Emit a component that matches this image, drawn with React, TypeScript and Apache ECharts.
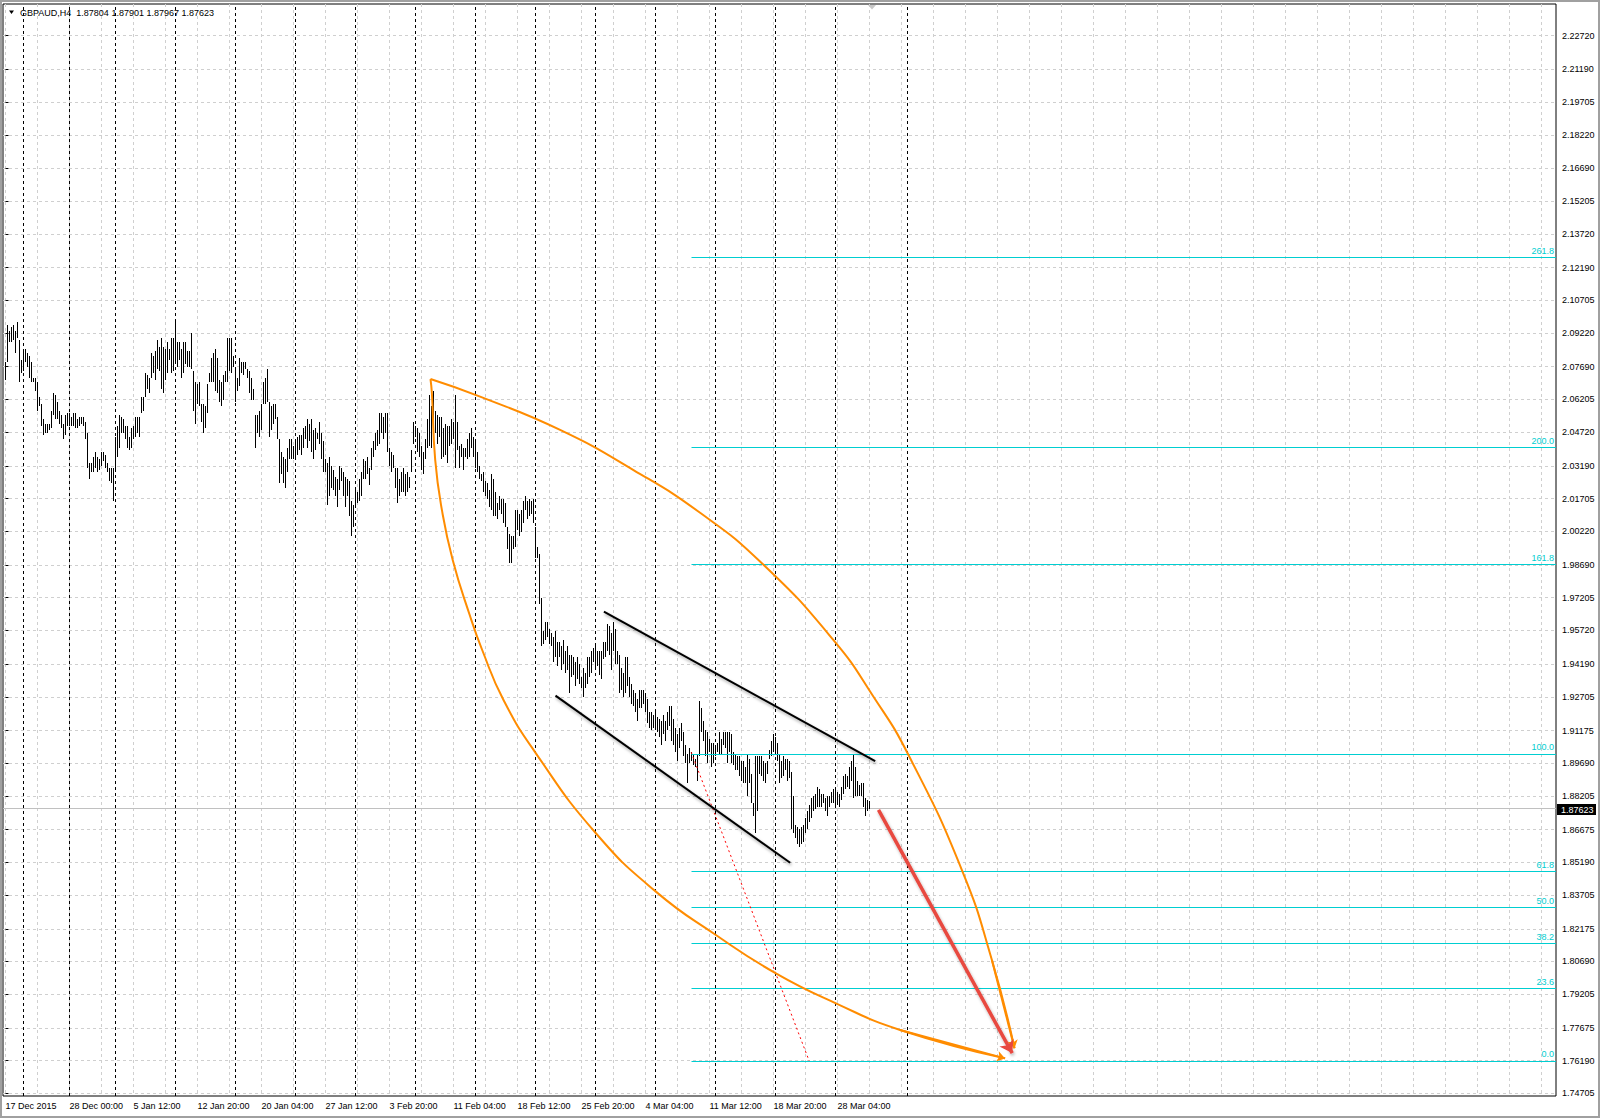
import React, { useEffect, useRef } from 'react';
import * as echarts from 'echarts';

// GBPAUD H4 bars: high / low per bar (index 0 = 17 Dec 2015)
const highs = [
  2.079, 2.096, 2.093, 2.095, 2.096, 2.093, 2.097, 2.089, 2.080, 2.084,
  2.085, 2.083, 2.082, 2.079, 2.072, 2.072, 2.070, 2.063, 2.060, 2.053,
  2.051, 2.051, 2.051, 2.057, 2.065, 2.064, 2.061, 2.057, 2.055, 2.051,
  2.055, 2.056, 2.056, 2.054, 2.056, 2.056, 2.053, 2.054, 2.054, 2.054,
  2.052, 2.047, 2.033, 2.033, 2.036, 2.038, 2.036, 2.035, 2.038, 2.038,
  2.037, 2.033, 2.031, 2.031, 2.031, 2.045, 2.050, 2.055, 2.054, 2.053,
  2.050, 2.050, 2.045, 2.049, 2.050, 2.054, 2.054, 2.054, 2.063, 2.063,
  2.074, 2.073, 2.072, 2.083, 2.082, 2.084, 2.089, 2.086, 2.090, 2.086,
  2.085, 2.088, 2.085, 2.090, 2.090, 2.097, 2.088, 2.088, 2.085, 2.088,
  2.088, 2.084, 2.084, 2.092, 2.075, 2.070, 2.069, 2.070, 2.060, 2.060,
  2.059, 2.069, 2.074, 2.081, 2.083, 2.085, 2.081, 2.071, 2.070, 2.073,
  2.075, 2.090, 2.090, 2.090, 2.082, 2.077, 2.072, 2.081, 2.079, 2.079,
  2.079, 2.076, 2.075, 2.072, 2.067, 2.055, 2.055, 2.057, 2.060, 2.070,
  2.072, 2.076, 2.061, 2.059, 2.060, 2.060, 2.054, 2.044, 2.038, 2.036,
  2.035, 2.040, 2.044, 2.044, 2.041, 2.044, 2.045, 2.046, 2.046, 2.049,
  2.050, 2.053, 2.051, 2.053, 2.048, 2.049, 2.047, 2.052, 2.047, 2.043,
  2.035, 2.033, 2.036, 2.032, 2.030, 2.027, 2.026, 2.032, 2.031, 2.029,
  2.027, 2.026, 2.025, 2.016, 2.014, 2.022, 2.020, 2.026, 2.029, 2.035,
  2.034, 2.036, 2.031, 2.040, 2.043, 2.047, 2.048, 2.056, 2.056, 2.054,
  2.056, 2.056, 2.040, 2.038, 2.037, 2.031, 2.031, 2.026, 2.029, 2.031,
  2.028, 2.029, 2.027, 2.039, 2.052, 2.050, 2.049, 2.047, 2.041, 2.038,
  2.044, 2.053, 2.064, 2.059, 2.066, 2.057, 2.055, 2.054, 2.054, 2.049,
  2.051, 2.050, 2.050, 2.053, 2.052, 2.064, 2.052, 2.041, 2.042, 2.040,
  2.040, 2.044, 2.047, 2.049, 2.045, 2.044, 2.038, 2.032, 2.028, 2.029,
  2.025, 2.024, 2.021, 2.028, 2.026, 2.020, 2.015, 2.018, 2.017, 2.017,
  2.015, 2.004, 2.001, 2.000, 2.000, 2.012, 2.012, 2.010, 2.012, 2.016,
  2.018, 2.016, 2.017, 2.016, 2.017, 2.004, 1.995, 1.992, 1.972, 1.957,
  1.961, 1.961, 1.958, 1.956, 1.954, 1.957, 1.952, 1.952, 1.950, 1.953,
  1.948, 1.950, 1.946, 1.946, 1.945, 1.943, 1.945, 1.942, 1.936, 1.940,
  1.938, 1.945, 1.945, 1.948, 1.949, 1.951, 1.948, 1.948, 1.948, 1.952,
  1.952, 1.960, 1.959, 1.956, 1.961, 1.958, 1.948, 1.946, 1.940, 1.938,
  1.945, 1.945, 1.936, 1.933, 1.930, 1.929, 1.926, 1.930, 1.930, 1.930,
  1.929, 1.926, 1.920, 1.920, 1.919, 1.920, 1.918, 1.917, 1.916, 1.919,
  1.916, 1.920, 1.923, 1.923, 1.917, 1.913, 1.910, 1.913, 1.915, 1.911,
  1.905, 1.901, 1.904, 1.902, 1.901, 1.899, 1.901, 1.925, 1.922, 1.916,
  1.912, 1.911, 1.908, 1.906, 1.906, 1.905, 1.906, 1.911, 1.908, 1.911,
  1.911, 1.911, 1.911, 1.910, 1.902, 1.901, 1.900, 1.900, 1.898, 1.898,
  1.895, 1.901, 1.899, 1.892, 1.879, 1.900, 1.900, 1.900, 1.900, 1.898,
  1.897, 1.898, 1.903, 1.907, 1.910, 1.909, 1.906, 1.901, 1.898, 1.900,
  1.899, 1.899, 1.898, 1.893, 1.882, 1.869, 1.868, 1.867, 1.868, 1.869,
  1.872, 1.875, 1.878, 1.881, 1.882, 1.883, 1.886, 1.885, 1.883, 1.883,
  1.881, 1.882, 1.882, 1.884, 1.885, 1.886, 1.884, 1.883, 1.886, 1.891,
  1.892, 1.891, 1.895, 1.898, 1.901, 1.895, 1.889, 1.887, 1.888, 1.888,
  1.881, 1.880, 1.8797,
];

const lows = [
  2.071, 2.079, 2.088, 2.088, 2.089, 2.083, 2.090, 2.070, 2.074, 2.075,
  2.079, 2.077, 2.072, 2.070, 2.070, 2.066, 2.057, 2.059, 2.050, 2.046,
  2.047, 2.047, 2.048, 2.049, 2.055, 2.053, 2.053, 2.051, 2.049, 2.044,
  2.046, 2.050, 2.050, 2.050, 2.050, 2.049, 2.049, 2.050, 2.051, 2.050,
  2.044, 2.031, 2.026, 2.029, 2.029, 2.031, 2.029, 2.030, 2.032, 2.034,
  2.031, 2.029, 2.025, 2.024, 2.016, 2.029, 2.036, 2.040, 2.047, 2.047,
  2.044, 2.040, 2.039, 2.040, 2.044, 2.045, 2.047, 2.045, 2.056, 2.057,
  2.063, 2.067, 2.065, 2.072, 2.074, 2.071, 2.076, 2.075, 2.067, 2.065,
  2.071, 2.074, 2.080, 2.074, 2.075, 2.079, 2.077, 2.080, 2.072, 2.074,
  2.078, 2.077, 2.077, 2.076, 2.057, 2.051, 2.060, 2.059, 2.052, 2.047,
  2.049, 2.056, 2.070, 2.070, 2.070, 2.066, 2.065, 2.061, 2.059, 2.062,
  2.070, 2.070, 2.075, 2.074, 2.077, 2.061, 2.066, 2.068, 2.074, 2.073,
  2.076, 2.072, 2.065, 2.062, 2.062, 2.040, 2.047, 2.045, 2.048, 2.060,
  2.060, 2.061, 2.045, 2.048, 2.051, 2.053, 2.044, 2.024, 2.028, 2.024,
  2.022, 2.029, 2.035, 2.035, 2.035, 2.036, 2.037, 2.039, 2.037, 2.040,
  2.044, 2.040, 2.043, 2.038, 2.035, 2.039, 2.044, 2.042, 2.035, 2.029,
  2.029, 2.014, 2.018, 2.022, 2.021, 2.018, 2.013, 2.021, 2.025, 2.018,
  2.013, 2.018, 2.009, 2.000, 2.004, 2.013, 2.015, 2.016, 2.018, 2.026,
  2.026, 2.028, 2.023, 2.030, 2.036, 2.039, 2.041, 2.042, 2.047, 2.044,
  2.047, 2.038, 2.032, 2.029, 2.031, 2.022, 2.015, 2.018, 2.020, 2.020,
  2.018, 2.020, 2.022, 2.029, 2.042, 2.045, 2.038, 2.036, 2.030, 2.028,
  2.035, 2.040, 2.041, 2.040, 2.044, 2.047, 2.042, 2.045, 2.035, 2.036,
  2.037, 2.033, 2.041, 2.042, 2.044, 2.031, 2.039, 2.031, 2.036, 2.030,
  2.036, 2.035, 2.036, 2.040, 2.036, 2.031, 2.029, 2.026, 2.025, 2.020,
  2.018, 2.017, 2.013, 2.012, 2.009, 2.009, 2.008, 2.012, 2.010, 2.006,
  2.004, 1.994, 1.988, 1.988, 1.994, 1.995, 2.003, 2.000, 2.002, 2.006,
  2.012, 2.008, 2.009, 2.010, 2.006, 1.990, 1.990, 1.969, 1.950, 1.951,
  1.953, 1.954, 1.951, 1.950, 1.943, 1.945, 1.941, 1.945, 1.939, 1.942,
  1.938, 1.939, 1.929, 1.936, 1.937, 1.932, 1.935, 1.933, 1.931, 1.927,
  1.931, 1.933, 1.936, 1.938, 1.943, 1.940, 1.941, 1.937, 1.935, 1.944,
  1.945, 1.948, 1.946, 1.939, 1.948, 1.942, 1.942, 1.929, 1.930, 1.927,
  1.929, 1.932, 1.927, 1.924, 1.923, 1.920, 1.916, 1.922, 1.922, 1.924,
  1.920, 1.915, 1.913, 1.912, 1.913, 1.913, 1.911, 1.909, 1.905, 1.910,
  1.907, 1.912, 1.914, 1.907, 1.905, 1.902, 1.898, 1.904, 1.907, 1.900,
  1.897, 1.888, 1.897, 1.898, 1.896, 1.895, 1.889, 1.900, 1.911, 1.907,
  1.900, 1.897, 1.902, 1.895, 1.897, 1.900, 1.902, 1.901, 1.901, 1.905,
  1.904, 1.897, 1.902, 1.897, 1.896, 1.894, 1.894, 1.891, 1.889, 1.888,
  1.888, 1.882, 1.888, 1.879, 1.873, 1.865, 1.875, 1.892, 1.891, 1.889,
  1.888, 1.892, 1.899, 1.900, 1.902, 1.902, 1.898, 1.888, 1.890, 1.891,
  1.894, 1.889, 1.890, 1.867, 1.865, 1.863, 1.860, 1.859, 1.860, 1.861,
  1.865, 1.867, 1.870, 1.872, 1.875, 1.876, 1.877, 1.877, 1.877, 1.879,
  1.875, 1.873, 1.877, 1.879, 1.879, 1.878, 1.878, 1.877, 1.880, 1.883,
  1.885, 1.886, 1.885, 1.889, 1.881, 1.882, 1.882, 1.882, 1.882, 1.877,
  1.873, 1.875, 1.8762,
];

const dateTickIdx = [0, 32, 64, 96, 128, 160, 192, 224, 256, 288, 320, 352, 384, 416];
const dateTickLabels = [
  '17 Dec 2015', '28 Dec 00:00', '5 Jan 12:00', '12 Jan 20:00', '20 Jan 04:00',
  '27 Jan 12:00', '3 Feb 20:00', '11 Feb 04:00', '18 Feb 12:00', '25 Feb 20:00',
  '4 Mar 04:00', '11 Mar 12:00', '18 Mar 20:00', '28 Mar 04:00',
];
const separatorIdx = [9, 32, 55, 85, 115, 145, 175, 205, 235, 265, 295, 325, 355, 385, 415, 451];

const priceTicks = [
  '2.22720', '2.21190', '2.19705', '2.18220', '2.16690', '2.15205', '2.13720', '2.12190',
  '2.10705', '2.09220', '2.07690', '2.06205', '2.04720', '2.03190', '2.01705', '2.00220',
  '1.98690', '1.97205', '1.95720', '1.94190', '1.92705', '1.91175', '1.89690', '1.88205',
  '1.86675', '1.85190', '1.83705', '1.82175', '1.80690', '1.79205', '1.77675', '1.76190',
  '1.74705',
];

const bidPrice = 1.87623;
const fibLevels = [0, 23.6, 38.2, 50, 61.8, 100, 161.8, 200, 261.8];
const fibZero = 1.7618;
const fibHundred = 1.9011;
const fibStartIdx = 343;

const upperArc = [
  [212.5, 2.0713], [237.3, 2.0633], [277.3, 2.0482], [314, 2.0300], [347.3, 2.0106],
  [378.2, 1.9877], [414, 1.9528], [434, 1.9271], [451.5, 1.9006], [478.2, 1.8484],
  [493.2, 1.8076], [504.5, 1.7675],
];
const lowerArc = [
  [212.5, 2.0713], [213.2, 2.0648], [214.85, 2.0346], [218.2, 2.0119], [223.6, 1.9892],
  [232.1, 1.9642], [238.35, 1.9483], [249, 1.9256], [265.2, 1.9014], [295.2, 1.8651],
  [325.2, 1.8386], [355.2, 1.8189], [385.2, 1.8015], [415.2, 1.7879], [447.3, 1.7758],
  [499.8, 1.7629],
];
const upperChannel = [[299.2, 1.9657], [434.85, 1.8979]];
const lowerChannel = [[275, 1.9276], [392.35, 1.8517]];
const fibTrend = [[342.85, 1.9019], [401.85, 1.7617]];
const forecastArrow = [[436.5, 1.8757], [503.35, 1.7653]];

const X_MIN = -1.25;
const X_MAX = 775.25;
const Y_MIN = 1.74582;
const Y_MAX = 2.24158;
const FONT = '"Liberation Sans", Arial, sans-serif';

const App: React.FC = () => {
  const ref = useRef<HTMLDivElement>(null);

  useEffect(() => {
    if (!ref.current) return;
    const chart = echarts.init(ref.current, null, { renderer: 'svg' });

    const gridIdx = Array.from({ length: 49 }, (_, k) => k * 16);
    const yTicks = priceTicks.map(Number);
    const fibRange = fibHundred - fibZero;

    const lineSeries = (name: string, data: any[], lineStyle: any, extra: any = {}) => ({
      name,
      type: 'lines',
      coordinateSystem: 'cartesian2d',
      polyline: false,
      silent: true,
      symbol: 'none',
      lineStyle: { opacity: 1, ...lineStyle },
      data,
      ...extra,
    });

    chart.setOption({
      animation: false,
      backgroundColor: '#fff',
      grid: {
        left: 3, right: 44, top: 4, bottom: 22,
        show: true, borderColor: '#000', borderWidth: 1, backgroundColor: '#fff',
        containLabel: false, outerBoundsMode: 'none',
      },
      xAxis: {
        type: 'value', min: X_MIN, max: X_MAX,
        axisLine: { show: false },
        axisTick: { show: false, customValues: gridIdx },
        splitLine: { show: true, lineStyle: { color: '#cfcfcf', type: [3, 3], width: 1 } },
        axisLabel: {
          customValues: dateTickIdx,
          formatter: (v: number) => {
            const k = dateTickIdx.indexOf(v);
            return k >= 0 ? dateTickLabels[k] : '';
          },
          align: 'left', margin: 5, fontSize: 9, fontFamily: FONT, color: '#000',
        },
      },
      yAxis: {
        type: 'value', position: 'right', min: Y_MIN, max: Y_MAX, scale: true,
        axisLine: { show: false },
        axisTick: { show: true, length: 3, customValues: yTicks, lineStyle: { color: '#000' } },
        splitLine: { show: true, lineStyle: { color: '#cfcfcf', type: [3, 3], width: 1 } },
        axisLabel: {
          customValues: yTicks,
          formatter: (v: number) => v.toFixed(5),
          margin: 6, fontSize: 9, fontFamily: FONT, color: '#000',
        },
      },
      series: [
        lineSeries('separators',
          separatorIdx.map(s => ({ coords: [[s, Y_MIN], [s, Y_MAX]] })),
          { color: '#000', width: 1, type: [3, 3] }, { z: 1 }),
        lineSeries('bid',
          [{ coords: [[X_MIN, bidPrice], [X_MAX, bidPrice]] }],
          { color: '#c0c0c0', width: 1 }, { z: 1 }),
        {
          name: 'GBPAUD',
          type: 'custom',
          silent: true,
          z: 3,
          encode: { x: 0, y: [1, 2] },
          data: highs.map((h, i) => [i, h, lows[i]]),
          renderItem: (_params: any, api: any) => {
            const top = api.coord([api.value(0), api.value(1)]);
            const bot = api.coord([api.value(0), api.value(2)]);
            const x = Math.round(top[0] - 0.5) + 0.5;
            const y1 = Math.round(top[1]);
            const y2 = Math.max(Math.round(bot[1]), y1 + 1);
            return {
              type: 'line',
              shape: { x1: x, y1, x2: x, y2 },
              style: { stroke: '#000', lineWidth: 1 },
            };
          },
        },
        lineSeries('fibo',
          fibLevels.map(l => {
            const p = fibZero + (fibRange * l) / 100;
            return { coords: [[fibStartIdx, p], [X_MAX, p]], label: { formatter: l.toFixed(1) } };
          }),
          { color: '#00CED1', width: 1 },
          {
            z: 4,
            label: {
              show: true, position: 'insideEndTop', distance: 2, opacity: 1,
              color: '#00CED1', fontSize: 9, fontFamily: FONT,
            },
          }),
        lineSeries('fiboTrend', [{ coords: fibTrend }],
          { color: '#FF0000', width: 1, type: [2, 3] }, { z: 5 }),
        lineSeries('channel', [{ coords: upperChannel }, { coords: lowerChannel }],
          {
            color: '#000', width: 2,
            shadowBlur: 3, shadowColor: 'rgba(0,0,0,0.35)', shadowOffsetX: 1, shadowOffsetY: 2,
          }, { z: 6 }),
        {
          name: 'upperArc', type: 'line', data: upperArc, smooth: 0.5, showSymbol: false,
          silent: true, z: 6, lineStyle: { color: '#FF8C00', width: 2 },
        },
        {
          name: 'lowerArc', type: 'line', data: lowerArc, smooth: 0.5, showSymbol: false,
          silent: true, z: 6, lineStyle: { color: '#FF8C00', width: 2 },
        },
        lineSeries('arcHeads',
          [
            { coords: upperArc.slice(-2) },
            { coords: lowerArc.slice(-2) },
          ],
          { color: '#FF8C00', width: 2 },
          { z: 6, symbol: ['none', 'arrow'], symbolSize: 8 }),
        lineSeries('forecast', [{ coords: forecastArrow }],
          {
            color: '#E8483F', width: 3.5,
            shadowBlur: 3, shadowColor: 'rgba(0,0,0,0.3)', shadowOffsetX: 1, shadowOffsetY: 2,
          },
          { z: 7, symbol: ['none', 'arrow'], symbolSize: 12 }),
      ],
    });

    // price tag for the current bid, placed through the y scale
    const bidY = chart.convertToPixel({ gridIndex: 0 }, [0, bidPrice])[1];
    chart.setOption({
      graphic: [
        {
          type: 'rect', silent: true, z: 100,
          shape: { x: 1, y: 1, width: 1598, height: 1116 },
          style: { fill: 'none', stroke: '#a0a0a0', lineWidth: 2 },
        },
        {
          type: 'polygon', silent: true, z: 100,
          shape: { points: [[9, 10.5], [14, 10.5], [11.5, 14]] },
          style: { fill: '#000' },
        },
        {
          type: 'text', silent: true, z: 100, left: 20, top: 8,
          style: {
            text: 'GBPAUD,H4  1.87804 1.87901 1.87967 1.87623',
            fill: '#000', font: `9px ${FONT}`,
          },
        },
        {
          type: 'polygon', silent: true, z: 100,
          shape: { points: [[868, 5], [876, 5], [872, 9.5]] },
          style: { fill: '#c8c8c8' },
        },
        {
          type: 'rect', silent: true, z: 100,
          shape: { x: 1557, y: Math.round(bidY) - 5, width: 39, height: 11 },
          style: { fill: '#000' },
        },
        {
          type: 'text', silent: true, z: 101,
          x: 1561, y: Math.round(bidY) + 0.5,
          style: {
            text: bidPrice.toFixed(5), fill: '#fff', font: `9px ${FONT}`,
            verticalAlign: 'middle', align: 'left',
          },
        },
      ],
    });

    return () => { chart.dispose(); };
  }, []);

  return (
    <div
      ref={ref}
      style={{ position: 'fixed', left: 0, top: 0, width: 1600, height: 1118, background: '#fff' }}
    />
  );
};

export default App;
